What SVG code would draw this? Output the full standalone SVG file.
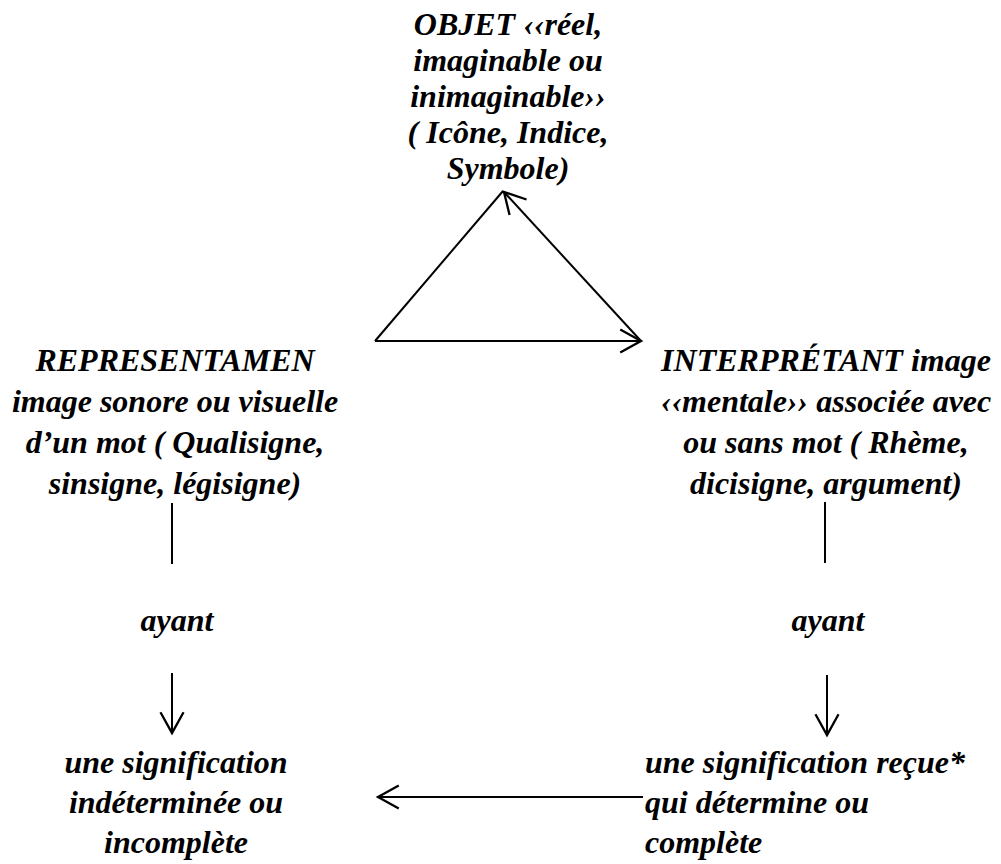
<svg xmlns="http://www.w3.org/2000/svg" width="1001" height="864" viewBox="0 0 1001 864">
  <style>
    .t { font-family: "Liberation Serif", "Times New Roman", serif; font-size: 32px; font-weight: bold; font-style: italic; fill: #000; }
    .c { text-anchor: middle; }
    .ln { stroke: #000; stroke-width: 2; fill: none; }
  </style>
  <defs>
    <marker id="open" markerUnits="userSpaceOnUse" markerWidth="30" markerHeight="30" viewBox="-22 -12 26 24" refX="0" refY="0" orient="auto">
      <path d="M -18 -10 L 0 0 L -18 10" fill="none" stroke="#000" stroke-width="2"/>
    </marker>
  </defs>

  <rect width="1001" height="864" fill="#fff"/>

  <g id="objet">
    <text class="t c" x="508" y="35">OBJET ‹‹réel,</text>
    <text class="t c" x="508" y="71">imaginable ou</text>
    <text class="t c" x="508" y="107">inimaginable››</text>
    <text class="t c" x="508" y="143">( Icône, Indice,</text>
    <text class="t c" x="508" y="179">Symbole)</text>
  </g>

  <g id="representamen">
    <text class="t c" x="175" y="371">REPRESENTAMEN</text>
    <text class="t c" x="175" y="412">image sonore ou visuelle</text>
    <text class="t c" x="175" y="453">d’un mot ( Qualisigne,</text>
    <text class="t c" x="175" y="494">sinsigne, légisigne)</text>
  </g>

  <g id="interpretant">
    <text class="t c" x="826" y="371">INTERPRÉTANT image</text>
    <text class="t c" x="826" y="412">‹‹mentale›› associée avec</text>
    <text class="t c" x="826" y="453">ou sans mot ( Rhème,</text>
    <text class="t c" x="826" y="494">dicisigne, argument)</text>
  </g>

  <g id="ayant-left">
    <text class="t c" x="177" y="631">ayant</text>
  </g>

  <g id="ayant-right">
    <text class="t c" x="828" y="631">ayant</text>
  </g>

  <g id="signification-left">
    <text class="t c" x="176" y="773">une signification</text>
    <text class="t c" x="176" y="813">indéterminée ou</text>
    <text class="t c" x="176" y="853">incomplète</text>
  </g>

  <g id="signification-right">
    <text class="t" x="645" y="773">une signification reçue*</text>
    <text class="t" x="645" y="813">qui détermine ou</text>
    <text class="t" x="645" y="853">complète</text>
  </g>

  <g id="connectors">
    <!-- triangle -->
    <line class="ln" x1="375" y1="341" x2="503" y2="191"/>
    <line class="ln" x1="375" y1="341" x2="641" y2="341" marker-end="url(#open)"/>
    <line class="ln" x1="641" y1="341" x2="504" y2="192" marker-end="url(#open)"/>
    <!-- left column -->
    <line class="ln" x1="172" y1="503" x2="172" y2="564"/>
    <line class="ln" x1="172" y1="673" x2="172" y2="733" marker-end="url(#open)"/>
    <!-- right column -->
    <line class="ln" x1="825" y1="502" x2="825" y2="563"/>
    <line class="ln" x1="827" y1="675" x2="827" y2="735" marker-end="url(#open)"/>
    <!-- bottom -->
    <line class="ln" x1="643" y1="797" x2="378" y2="797" marker-end="url(#open)"/>
  </g>
</svg>
